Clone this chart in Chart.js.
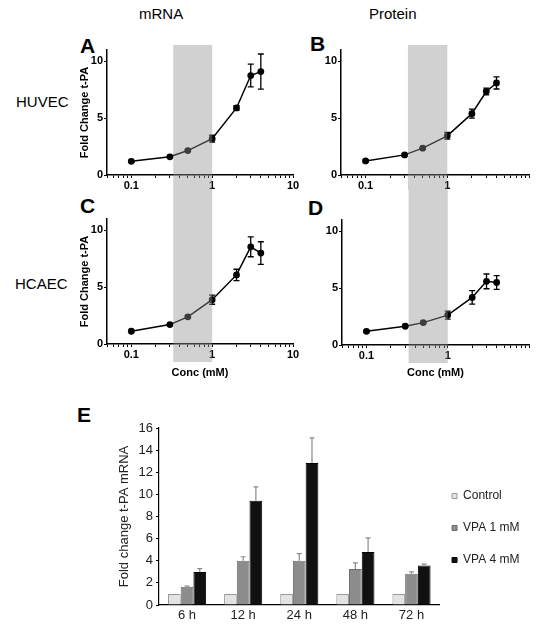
<!DOCTYPE html>
<html>
<head>
<meta charset="utf-8">
<script src="https://cdn.jsdelivr.net/npm/chart.js@4/dist/chart.umd.min.js"></script>
<style>
  body { margin: 0; width: 537px; height: 626px; background: #fff; position: relative; overflow: hidden;
         font-family: "Liberation Sans", Arial, sans-serif; }
  canvas { position: absolute; }
  .lbl { position: absolute; color: #000; white-space: nowrap; line-height: 1; }
  .letter { font-weight: bold; font-size: 21px; }
  .head { font-size: 15px; }
</style>
</head>
<body>
<div class="lbl head" style="left:139px;top:6px">mRNA</div>
<div class="lbl head" style="left:369px;top:6px">Protein</div>
<div class="lbl head" style="left:16px;top:94px">HUVEC</div>
<div class="lbl head" style="left:15px;top:276px">HCAEC</div>
<div class="lbl letter" style="left:80px;top:35px">A</div>
<div class="lbl letter" style="left:310px;top:33px">B</div>
<div class="lbl letter" style="left:80px;top:195px">C</div>
<div class="lbl letter" style="left:308px;top:197px">D</div>
<div class="lbl letter" style="left:77px;top:404px">E</div>

<canvas id="chartA" width="234" height="160" style="left:76px;top:30px"></canvas>
<canvas id="chartB" width="227" height="160" style="left:310px;top:30px"></canvas>
<canvas id="chartC" width="234" height="190" style="left:76px;top:190px"></canvas>
<canvas id="chartD" width="227" height="190" style="left:310px;top:190px"></canvas>
<canvas id="chartE" width="424" height="226" style="left:113px;top:400px"></canvas>

<script>
// concentration (mM) used in the dose curves
const conc = [0.1, 0.3, 0.5, 1, 2, 3, 4];
const huvecMrna = [1.2, 1.6, 2.15, 3.2, 5.9, 8.75, 9.1];
const huvecMrnaErr = [0.1, 0.1, 0.1, 0.3, 0.2, 1.0, 1.55];
const huvecProt = [1.24, 1.77, 2.36, 3.45, 5.4, 7.35, 8.1];
const huvecProtErr = [0.1, 0.1, 0.1, 0.3, 0.4, 0.3, 0.53];
const hcaecMrna = [1.12, 1.71, 2.39, 3.9, 6.08, 8.55, 8.0];
const hcaecMrnaErr = [0.1, 0.1, 0.1, 0.4, 0.5, 0.87, 1.0];
const hcaecProt = [1.2, 1.65, 1.97, 2.63, 4.19, 5.6, 5.5];
const hcaecProtErr = [0.1, 0.1, 0.1, 0.35, 0.6, 0.65, 0.6];
// grey band (therapeutic range, mM)
const shadeRange = [0.33, 1];
const curveYTicks = [0, 5, 10];
const curveXLabels = [0.1, 1, 10];

// time course
const timeLabels = ["6 h", "12 h", "24 h", "48 h", "72 h"];
const control = [1, 1, 1, 1, 1];
const vpa1 = [1.65, 4.0, 4.0, 3.25, 2.83];
const vpa1Err = [0.05, 0.36, 0.65, 0.55, 0.17];
const vpa4 = [2.98, 9.43, 12.84, 4.8, 3.58];
const vpa4Err = [0.3, 1.24, 2.26, 1.26, 0.12];

const FONT = "'Liberation Sans', Arial, sans-serif";

// minor + major tick positions for the log axis
let logTicks = [];
for (let p = -2; p <= 0; p++) {
    for (let m = 1; m <= 9; m++) {
        let v = +(m * Math.pow(10, p)).toPrecision(2);
        if (v >= 0.05) logTicks.push(v);
    }
}
logTicks.push(10);

const errorBars = {
    id: "errorBars",
    afterDatasetsDraw(chart) {
        const ctx = chart.ctx;
        const y = chart.scales.y;
        chart.data.datasets.forEach((ds, di) => {
            if (!ds.err) return;
            const meta = chart.getDatasetMeta(di);
            ctx.save();
            ctx.strokeStyle = ds.errColor || "#000";
            ctx.lineWidth = ds.errWidth || 1.3;
            meta.data.forEach((el, i) => {
                const v = ds.data[i].y !== undefined ? ds.data[i].y : ds.data[i];
                const e = ds.err[i];
                const top = y.getPixelForValue(v + e);
                const bot = ds.errUpOnly ? y.getPixelForValue(v) : y.getPixelForValue(v - e);
                const w = ds.capWidth || 3;
                ctx.beginPath();
                ctx.moveTo(el.x, bot);
                ctx.lineTo(el.x, top);
                ctx.moveTo(el.x - w, top);
                ctx.lineTo(el.x + w, top);
                if (!ds.errUpOnly) {
                    ctx.moveTo(el.x - w, bot);
                    ctx.lineTo(el.x + w, bot);
                }
                ctx.stroke();
            });
            ctx.restore();
        });
    }
};

const shade = {
    id: "shade",
    afterDatasetsDraw(chart, args, opts) {
        const x = chart.scales.x;
        const ctx = chart.ctx;
        const x0 = x.getPixelForValue(shadeRange[0]);
        const x1 = x.getPixelForValue(shadeRange[1]);
        const top = opts.toTop ? 0 : chart.chartArea.top - 5;
        const bottom = opts.toBottom ? chart.height : chart.chartArea.bottom + 18;
        ctx.save();
        ctx.fillStyle = "rgba(146,146,146,0.42)";
        ctx.fillRect(x0, top, x1 - x0, bottom - top);
        ctx.restore();
    }
};

function curve(id, values, errs, o) {
    const shown = o.hideLast ? curveXLabels.slice(0, -1) : curveXLabels;
    return new Chart(document.getElementById(id), {
        type: "line",
        data: {
            datasets: [{
                data: conc.map((c, i) => ({x: c, y: values[i]})),
                err: errs,
                borderColor: "#000",
                backgroundColor: "#000",
                borderWidth: 1.5,
                pointRadius: 3.4,
                pointBorderWidth: 0,
                capWidth: 3,
                tension: 0
            }]
        },
        options: {
            responsive: false,
            animation: false,
            events: [],
            layout: {padding: {top: o.top, right: o.right, bottom: 0, left: 0}},
            plugins: {
                legend: {display: false},
                tooltip: {enabled: false},
                shade: {toTop: o.toTop, toBottom: o.toBottom}
            },
            scales: {
                x: {
                    type: "logarithmic",
                    min: 0.05,
                    max: 10,
                    afterBuildTicks: s => { s.ticks = logTicks.map(v => ({value: v})); },
                    afterFit: s => { s.height = o.xh; },
                    border: {color: "#000", width: 1.5},
                    grid: {drawOnChartArea: false, tickLength: 3, color: "#000"},
                    ticks: {
                        autoSkip: false, maxRotation: 0, padding: 1, color: "#000",
                        font: {family: FONT, size: 11, weight: "bold"},
                        callback: v => shown.includes(v) ? String(v) : ""
                    },
                    title: {
                        display: !!o.xTitle, text: "Conc (mM)", color: "#000",
                        padding: {top: 0, bottom: 0},
                        font: {family: FONT, size: 11, weight: "bold"}
                    }
                },
                y: {
                    min: 0,
                    max: 11,
                    afterBuildTicks: s => { s.ticks = curveYTicks.map(v => ({value: v})); },
                    afterFit: s => { s.width = o.yw; },
                    border: {color: "#000", width: 1.5},
                    grid: {drawOnChartArea: false, tickLength: 3, color: "#000"},
                    ticks: {padding: 1, color: "#000", font: {family: FONT, size: 11, weight: "bold"}},
                    title: {
                        display: !!o.yTitle, text: "Fold Change t-PA", color: "#000",
                        padding: {top: 2, bottom: 0},
                        font: {family: FONT, size: 11, weight: "bold"}
                    }
                }
            }
        },
        plugins: [errorBars, shade]
    });
}

curve("chartA", huvecMrna, huvecMrnaErr, {top: 20, right: 17, xh: 15, yw: 31, yTitle: true, toBottom: true});
curve("chartB", huvecProt, huvecProtErr, {top: 20, right: 8, xh: 15, yw: 31, toBottom: true, hideLast: true});
curve("chartC", hcaecMrna, hcaecMrnaErr, {top: 29, right: 17, xh: 36, yw: 31, yTitle: true, xTitle: true, toTop: true});
curve("chartD", hcaecProt, hcaecProtErr, {top: 30, right: 8, xh: 35, yw: 32, xTitle: true, toTop: true, hideLast: true});

const legendNudge = {
    id: "legendNudge",
    afterLayout(chart, args, opts) {
        const l = chart.legend;
        l.left += opts.dx; l.right += opts.dx;
        l.top += opts.dy; l.bottom += opts.dy;
    }
};

new Chart(document.getElementById("chartE"), {
    type: "bar",
    data: {
        labels: timeLabels,
        datasets: [
            {label: "Control", data: control, backgroundColor: "#e3e3e3", borderColor: "#999", borderWidth: 1},
            {label: "VPA 1 mM", data: vpa1, err: vpa1Err, errUpOnly: true, errColor: "#8a8a8a", errWidth: 1.2,
             capWidth: 2.5, backgroundColor: "#8c8c8c", borderColor: "#6e6e6e", borderWidth: 1},
            {label: "VPA 4 mM", data: vpa4, err: vpa4Err, errUpOnly: true, errColor: "#8a8a8a", errWidth: 1.2,
             capWidth: 2.5, backgroundColor: "#111", borderColor: "#000", borderWidth: 1}
        ]
    },
    options: {
        responsive: false,
        animation: false,
        events: [],
        categoryPercentage: 0.68,
        barPercentage: 1,
        layout: {padding: {top: 28, right: 0, bottom: 0, left: 0}},
        plugins: {
            tooltip: {enabled: false},
            legend: {
                position: "right",
                labels: {boxWidth: 5, boxHeight: 5, padding: 20, color: "#222", font: {family: FONT, size: 12}}
            },
            legendNudge: {dx: -7.5, dy: 1}
        },
        scales: {
            x: {
                afterFit: s => { s.height = 21; },
                border: {color: "#000", width: 1.2},
                grid: {display: false, drawTicks: false},
                ticks: {padding: 3, color: "#222", font: {family: FONT, size: 13}}
            },
            y: {
                min: 0,
                max: 16,
                afterFit: s => { s.width = 46; },
                border: {color: "#000", width: 1.2},
                grid: {drawOnChartArea: false, tickLength: 3, color: "#000"},
                ticks: {stepSize: 2, padding: 3, color: "#222", font: {family: FONT, size: 13}},
                title: {
                    display: true, text: "Fold change t-PA mRNA", color: "#222",
                    padding: {top: 4, bottom: 0},
                    font: {family: FONT, size: 13}
                }
            }
        }
    },
    plugins: [errorBars, legendNudge]
});
</script>
</body>
</html>
